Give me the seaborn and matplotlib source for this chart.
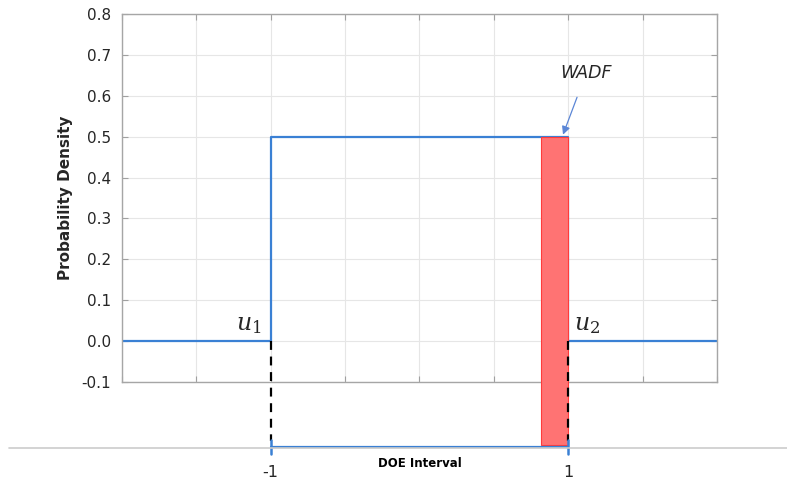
import matplotlib
matplotlib.use("Agg")
import matplotlib.pyplot as plt
import seaborn as sns
import pandas as pd
from matplotlib.lines import Line2D

# Data
step_x = [-2.0, -1.0, -1.0, 1.0, 1.0, 2.0]
step_y = [0.0, 0.0, 0.5, 0.5, 0.0, 0.0]
doe_interval = [-1, 1]
wadf_span = [0.817, 1.0]
wadf_height = 0.5
y_ticks = [-0.1, 0.0, 0.1, 0.2, 0.3, 0.4, 0.5, 0.6, 0.7, 0.8]
x_grid = [-2.0, -1.5, -1.0, -0.5, 0.0, 0.5, 1.0, 1.5, 2.0]

sns.set_style("whitegrid")
plt.rcParams['font.family'] = ['DejaVu Sans']

blue = '#3a80d4'
red_fill = '#ff7373'

fig = plt.figure(figsize=(7.87, 4.83), dpi=100)
ax = fig.add_axes([0.155, 0.209, 0.756, 0.762])

df = pd.DataFrame({'x': step_x, 'y': step_y})
sns.lineplot(data=df, x='x', y='y', sort=False, estimator=None, errorbar=None,
             color=blue, linewidth=1.6, ax=ax)

# WADF bar (extends below axes to the interval line)
bar_bottom = -0.255
ax.bar(wadf_span[0], wadf_height - bar_bottom, bottom=bar_bottom,
       width=wadf_span[1] - wadf_span[0], align='edge', color=red_fill,
       edgecolor='#ff3b3b', linewidth=0.8, clip_on=False, zorder=3)

ax.set_xlim(-2, 2)
ax.set_ylim(-0.1, 0.8)
ax.set_xticks(x_grid)
ax.set_xticklabels([])
ax.set_yticks(y_ticks)
ax.set_yticklabels([f'{v:.1f}' for v in y_ticks], fontsize=11, color='#262626')
ax.set_xlabel('')
ax.set_ylabel('Probability Density', fontsize=11, fontweight='bold', labelpad=6)
ax.grid(True, color='#e6e6e6', linewidth=0.8)
ax.tick_params(direction='in', length=4, color='#a0a0a0', top=True, right=True,
               bottom=True, left=True, pad=8)
for s in ax.spines.values():
    s.set_color('#a6a6a6')
    s.set_linewidth(1.0)

# dashed lines from the step edges down to the interval bar
for xv in doe_interval:
    ax.plot([xv, xv], [0.0, -0.245], color='black', linestyle=(0, (4, 3)),
            linewidth=1.6, clip_on=False, zorder=4)

# DOE interval bar
y_int = -0.259
ax.plot(doe_interval, [y_int, y_int], color=blue, linewidth=1.6, clip_on=False, zorder=5)
for xv in doe_interval:
    ax.plot([xv, xv], [y_int - 0.018, y_int + 0.018], color=blue, linewidth=1.8,
            clip_on=False, zorder=5)
    ax.text(xv, -0.322, f'{xv}', ha='center', va='center', fontsize=11.5, color='#262626')
ax.text(0.0, -0.298, 'DOE Interval', ha='center', va='center', fontsize=8.5,
        fontweight='bold', color='black')

# thin gray separator line across the figure
fig.add_artist(Line2D([0.012, 1.0], [0.0725, 0.0725], color='#cccccc', linewidth=1.2))

# boundary labels
ax.text(-1.06, 0.012, r'$u_1$', ha='right', va='bottom', fontsize=17,
        math_fontfamily='dejavuserif')
ax.text(1.04, 0.012, r'$u_2$', ha='left', va='bottom', fontsize=17,
        math_fontfamily='dejavuserif')

# WADF annotation
ax.annotate('WADF', xy=(0.965, 0.505), xytext=(1.12, 0.655), ha='center', va='center',
            fontsize=12.5, fontstyle='italic',
            arrowprops=dict(arrowstyle='-|>', color='#5b86d6', lw=0.9,
                            shrinkA=9, shrinkB=0, mutation_scale=12))

fig.savefig('out.png', dpi=100)
